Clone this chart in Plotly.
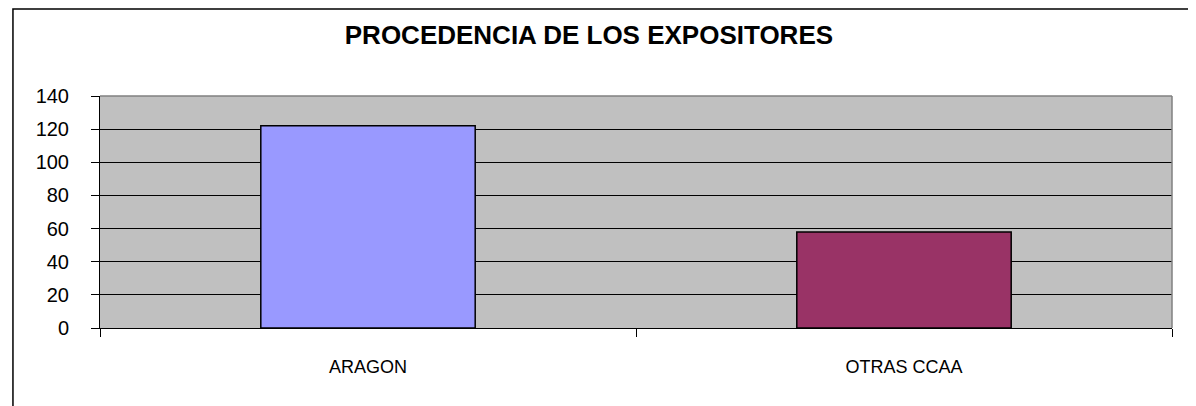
import plotly.graph_objects as go

categories = ["ARAGON", "OTRAS CCAA"]
values = [122, 58]
bar_colors = ["#9999FF", "#993366"]
y_ticks = [0, 20, 40, 60, 80, 100, 120, 140]

FONT = "Liberation Sans, Arial, sans-serif"

fig = go.Figure(go.Bar(
    x=categories,
    y=values,
    marker=dict(color=bar_colors, line=dict(color="#000000", width=1.5)),
    width=0.4,
    hoverinfo="skip",
))

# plot area edges: gray top/right, outer chart frame
shapes = [
    dict(type="line", xref="paper", yref="paper", x0=0, x1=1, y0=1, y1=1,
         line=dict(color="#808080", width=1.5), layer="above"),
    dict(type="line", xref="paper", yref="paper", x0=1, x1=1, y0=0, y1=1,
         line=dict(color="#808080", width=1.5), layer="above"),
    dict(type="rect", xref="paper", yref="paper",
         x0=-0.0812, x1=1.0159, y0=-0.36, y1=1.375,
         line=dict(color="#000000", width=1.5)),
]

fig.update_layout(
    width=1188, height=398,
    margin=dict(l=92, r=24, t=88, b=78),
    paper_bgcolor="#FFFFFF",
    plot_bgcolor="#C0C0C0",
    font=dict(family=FONT, size=18, color="#000000"),
    title=dict(text="<b>PROCEDENCIA DE LOS EXPOSITORES</b>",
               x=0.489, xanchor="center", y=0.932, yanchor="middle",
               font=dict(family=FONT, size=26, color="#000000")),
    showlegend=False,
    bargap=0.6,
    shapes=shapes,
    xaxis=dict(
        showgrid=False, showline=True, linecolor="#000000", linewidth=1,
        ticks="outside", tickson="boundaries", ticklen=8, tickcolor="#000000",
        tickfont=dict(size=18), ticklabelstandoff=22,
    ),
    yaxis=dict(
        range=[0, 140], tickvals=y_ticks, showgrid=True, gridcolor="#000000",
        gridwidth=1, showline=True, linecolor="#000000", linewidth=1,
        zeroline=False, ticks="outside", ticklen=8, tickcolor="#000000",
        tickfont=dict(size=20), ticklabelstandoff=18,
    ),
)

fig.write_html("out.html")
